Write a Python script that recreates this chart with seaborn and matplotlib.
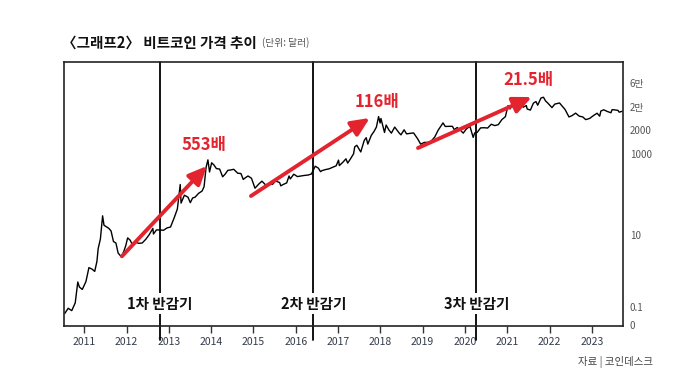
import numpy as np
import pandas as pd
import matplotlib
matplotlib.use("Agg")
import matplotlib.pyplot as plt
import seaborn as sns

sns.set_style("white")
plt.rcParams['font.family'] = ['Noto Sans CJK KR', 'DejaVu Sans']

# bitcoin price (USD)
dates = [
    "2010-07-17", "2010-08-15", "2010-09-15", "2010-10-15", "2010-11-06", "2010-11-20", "2010-12-15",
    "2011-01-15", "2011-02-10", "2011-03-10", "2011-04-01", "2011-04-20", "2011-05-01", "2011-05-20",
    "2011-06-08", "2011-06-20", "2011-07-10", "2011-08-01", "2011-08-20", "2011-09-10", "2011-10-01",
    "2011-10-20", "2011-11-18", "2011-12-10", "2011-12-25",
    "2012-01-10", "2012-02-01", "2012-02-20", "2012-03-15", "2012-04-15", "2012-05-15", "2012-06-15",
    "2012-07-15", "2012-08-15", "2012-08-20", "2012-09-15", "2012-10-15", "2012-11-15", "2012-12-15",
    "2013-01-15", "2013-02-15", "2013-03-15", "2013-04-09", "2013-04-16", "2013-05-15", "2013-06-15",
    "2013-07-05", "2013-07-25", "2013-08-15", "2013-09-15", "2013-10-15", "2013-11-01", "2013-11-18",
    "2013-12-04", "2013-12-18",
    "2014-01-05", "2014-01-25", "2014-02-15", "2014-03-15", "2014-04-10", "2014-05-01", "2014-05-25",
    "2014-06-15", "2014-07-15", "2014-08-18", "2014-09-15", "2014-10-05", "2014-10-25", "2014-11-15",
    "2014-12-15",
    "2015-01-14", "2015-02-15", "2015-03-15", "2015-04-15", "2015-05-15", "2015-06-15", "2015-07-10",
    "2015-08-15", "2015-08-25", "2015-09-15", "2015-10-15", "2015-11-04", "2015-11-15", "2015-12-15",
    "2016-01-15", "2016-02-15", "2016-03-15", "2016-04-15", "2016-05-15", "2016-06-17", "2016-07-15",
    "2016-08-02", "2016-08-15", "2016-09-15", "2016-10-15", "2016-11-15", "2016-12-15",
    "2017-01-05", "2017-01-12", "2017-02-15", "2017-03-10", "2017-03-25", "2017-04-15", "2017-05-15",
    "2017-05-25", "2017-06-12", "2017-07-16", "2017-08-15", "2017-09-01", "2017-09-15", "2017-10-15",
    "2017-11-08", "2017-11-28", "2017-12-17", "2017-12-30",
    "2018-01-06", "2018-02-06", "2018-02-20", "2018-03-15", "2018-04-06", "2018-05-05", "2018-06-15",
    "2018-06-28", "2018-07-25", "2018-08-15", "2018-09-15", "2018-10-15", "2018-11-20", "2018-12-15",
    "2019-01-15", "2019-02-15", "2019-03-15", "2019-04-15", "2019-05-15", "2019-06-26", "2019-07-15",
    "2019-08-15", "2019-09-15", "2019-10-01", "2019-10-26", "2019-11-15", "2019-12-17",
    "2020-01-15", "2020-02-13", "2020-03-12", "2020-03-25", "2020-04-15", "2020-05-15", "2020-06-15",
    "2020-07-15", "2020-08-15", "2020-09-15", "2020-10-15", "2020-11-15", "2020-12-15",
    "2021-01-08", "2021-01-25", "2021-02-15", "2021-03-13", "2021-03-25", "2021-04-14", "2021-04-25",
    "2021-05-19", "2021-06-15", "2021-06-22", "2021-07-20", "2021-08-15", "2021-09-06", "2021-09-21",
    "2021-10-20", "2021-11-10", "2021-11-28", "2021-12-15",
    "2022-01-22", "2022-02-15", "2022-03-28", "2022-04-15", "2022-05-15", "2022-06-18", "2022-07-15",
    "2022-08-14", "2022-09-15", "2022-10-15", "2022-11-09", "2022-11-25", "2022-12-15",
    "2023-01-15", "2023-02-15", "2023-03-10", "2023-03-20", "2023-04-14", "2023-05-15", "2023-06-15",
    "2023-06-25", "2023-07-15", "2023-08-15", "2023-08-25", "2023-09-20",
]
prices = [
    0.05, 0.07, 0.06, 0.10, 0.39, 0.28, 0.24,
    0.40, 1.00, 0.90, 0.78, 1.5, 3.5, 6.5,
    29.6, 16, 14.5, 13, 11, 5.5, 5.0,
    2.6, 2.0, 3.0, 4.2,
    7.0, 6.0, 4.5, 5.3, 4.9, 5.0, 6.4,
    8.7, 13.0, 9.0, 11.8, 11.7, 11.5, 13.4,
    14.2, 25.6, 46, 230, 68, 114, 100,
    70, 95, 100, 129, 150, 200, 700,
    1150, 520,
    950, 820, 650, 630, 380, 450, 580,
    590, 620, 480, 470, 320, 360, 400,
    345,
    180, 235, 285, 225, 237, 232, 290,
    260, 210, 230, 255, 400, 330, 450,
    385, 400, 415, 425, 455, 760, 665,
    530, 570, 610, 640, 710, 780,
    1130, 790, 1010, 1230, 930, 1180, 1710,
    2700, 2980, 1930, 4100, 4900, 3220, 5700,
    7400, 9800, 19500, 12800,
    17200, 6900, 11200, 8200, 6600, 9800, 6500,
    5900, 8200, 6300, 6500, 6700, 4500, 3200,
    3600, 3600, 3900, 5100, 8000, 12900, 10200,
    10300, 10300, 8300, 9500, 8500, 6600,
    8800, 10300, 5000, 6700, 6900, 9300, 9400,
    9200, 11800, 10800, 11500, 16000, 19300,
    40000, 32000, 48000, 61000, 52000, 63500, 49000,
    36000, 40000, 32000, 29800, 47000, 52000, 41000,
    66000, 69000, 54000, 48000,
    35000, 44000, 47500, 40500, 31000, 19000, 20800,
    24400, 20000, 19100, 16000, 16500, 17400,
    20800, 24300, 20000, 28000, 30400, 27200, 25000,
    30600, 30300, 29200, 26000, 27500,
]

years = list(range(2011, 2024))
halving_dates = ["2012-10-15", "2016-06-01", "2020-04-08"]
halving_labels = ["1차 반감기", "2차 반감기", "3차 반감기"]

# growth arrows: (tail year, tail price) -> (head year, head price)
arrow_tail_x = [2011.89, 2014.94, 2018.89]
arrow_tail_y = [2.1, 108, 2500]
arrow_head_x = [2013.90, 2017.75, 2021.58]
arrow_head_y = [770, 17800, 70000]
growth_labels = ["553배", "116배", "21.5배"]
growth_label_x = [2013.82, 2017.91, 2021.50]
growth_label_y = [2950, 52000, 213000]

ytick_labels = ["6만", "2만", "2000", "1000", "10", "0.1", "0"]
ytick_pos = [10**5.25, 10**4.56, 10**3.91, 10**3.23, 10**0.93, 10**-1.12, 10**-1.63]


def to_year(s):
    d = pd.to_datetime(pd.Series(s))
    return (d.dt.year + (d.dt.dayofyear - 1) / 365.25).to_numpy()


df = pd.DataFrame({"year": to_year(dates), "price": prices})

red = "#e3242f"
fig = plt.figure(figsize=(7, 3.92), dpi=100)
ax = fig.add_axes([64 / 700, 1 - 325.7 / 392, (622.7 - 64) / 700, (325.7 - 62) / 392])

sns.lineplot(data=df, x="year", y="price", color="black", lw=1.0, ax=ax)
ax.set_yscale("log")
ax.set_ylim(10**-1.65, 10**5.84)
ax.set_xlim(2010.52, 2023.73)

for x, lab in zip(to_year(halving_dates), halving_labels):
    ax.axvline(x, ymin=-0.055, ymax=1, color="black", lw=1.3, clip_on=False)
    ax.text(x, 10**-1.02, lab, ha="center", va="center", fontsize=10.5,
            fontweight="bold", color="#111111",
            bbox=dict(facecolor="white", edgecolor="none", pad=1.5))

for tx, ty, hx, hy in zip(arrow_tail_x, arrow_tail_y, arrow_head_x, arrow_head_y):
    ax.annotate("", xy=(hx, hy), xytext=(tx, ty),
                arrowprops=dict(arrowstyle="-|>,head_length=0.55,head_width=0.25",
                                color=red, lw=2.8, mutation_scale=20,
                                shrinkA=0, shrinkB=0))

for x, y, lab in zip(growth_label_x, growth_label_y, growth_labels):
    ax.text(x, y, lab, ha="center", va="center", fontsize=12,
            fontweight="bold", color=red)

ax.set_xticks(years)
ax.set_xticklabels([str(y) for y in years])
ax.tick_params(axis="x", direction="out", length=5, width=1, color="#333333",
               labelsize=7.5, labelcolor="#333a4a", pad=3, bottom=True)
ax.yaxis.tick_right()
ax.set_yticks(ytick_pos)
ax.set_yticklabels(ytick_labels)
ax.minorticks_off()
ax.tick_params(axis="y", length=0, labelsize=7, labelcolor="#555555", pad=5)
ax.set_xlabel("")
ax.set_ylabel("")
for sp in ax.spines.values():
    sp.set_visible(True)
    sp.set_color("#222222")
    sp.set_linewidth(1.2)

title = fig.text(62 / 700, 1 - 42.5 / 392, "〈그래프2〉 비트코인 가격 추이", fontsize=10.5,
                 fontweight="bold", color="#111111", va="center", ha="left")
fig.canvas.draw()
bb = title.get_window_extent(fig.canvas.get_renderer())
fig.text((bb.x1 + 5) / 700, 1 - 43 / 392, "(단위: 달러)", fontsize=7, color="#555555",
         va="center", ha="left")
fig.text(653 / 700, 1 - 362 / 392, "자료 | 코인데스크", fontsize=7.5, color="#444444",
         va="center", ha="right")

fig.savefig("out.png", dpi=100)
